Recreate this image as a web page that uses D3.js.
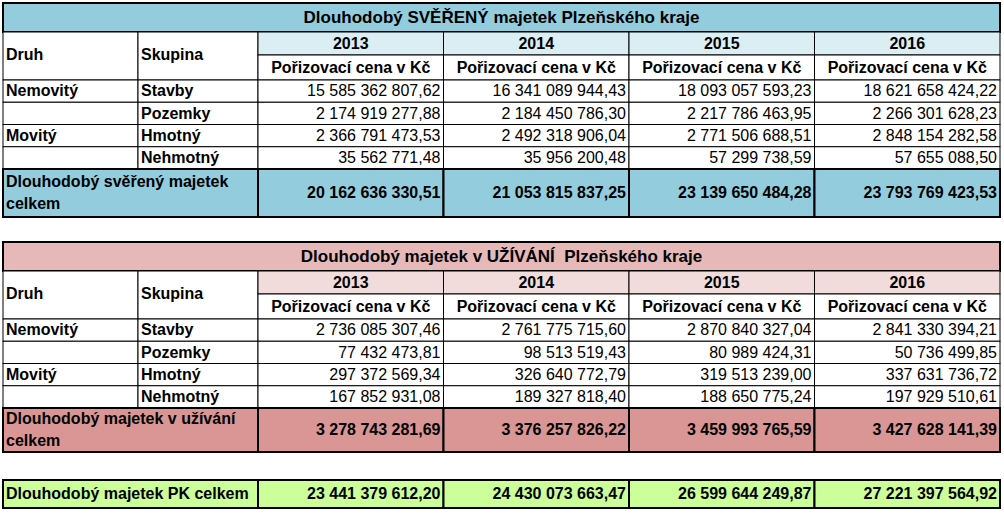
<!DOCTYPE html>
<html>
<head>
<meta charset="utf-8">
<script src="https://cdn.jsdelivr.net/npm/d3@7"></script>
<style>
  body { margin: 0; background: #fff; }
  text { font-family: "Liberation Sans", Arial, sans-serif; white-space: pre; }
</style>
</head>
<body>
<svg id="chart" width="1004" height="517"></svg>
<script>
// data
const years = ['2013', '2014', '2015', '2016'];
const druh = ['Nemovitý', '', 'Movitý', ''];
const skupina = ['Stavby', 'Pozemky', 'Hmotný', 'Nehmotný'];

const sverenyValues = [
  ['15 585 362 807,62', '16 341 089 944,43', '18 093 057 593,23', '18 621 658 424,22'],
  ['2 174 919 277,88', '2 184 450 786,30', '2 217 786 463,95', '2 266 301 628,23'],
  ['2 366 791 473,53', '2 492 318 906,04', '2 771 506 688,51', '2 848 154 282,58'],
  ['35 562 771,48', '35 956 200,48', '57 299 738,59', '57 655 088,50']
];
const sverenyTotal = ['20 162 636 330,51', '21 053 815 837,25', '23 139 650 484,28', '23 793 769 423,53'];

const uzivaniValues = [
  ['2 736 085 307,46', '2 761 775 715,60', '2 870 840 327,04', '2 841 330 394,21'],
  ['77 432 473,81', '98 513 519,43', '80 989 424,31', '50 736 499,85'],
  ['297 372 569,34', '326 640 772,79', '319 513 239,00', '337 631 736,72'],
  ['167 852 931,08', '189 327 818,40', '188 650 775,24', '197 929 510,61']
];
const uzivaniTotal = ['3 278 743 281,69', '3 376 257 826,22', '3 459 993 765,59', '3 427 628 141,39'];

const pkTotal = ['23 441 379 612,20', '24 430 073 663,47', '26 599 644 249,87', '27 221 397 564,92'];

const svg = d3.select('#chart');
const x0 = 3, x1 = 138, x2 = 258, xEnd = 1000;
const xYear = d3.scaleBand().domain(years).range([x2, xEnd]);

function cell(g, x, y, w, h, fill, sw) {
  g.append('rect').attr('x', x).attr('y', y).attr('width', w).attr('height', h)
    .attr('fill', fill).attr('stroke', '#000').attr('stroke-width', sw || 1);
}
function label(g, x, y, t, anchor, bold, size) {
  g.append('text').attr('x', x).attr('y', y).attr('text-anchor', anchor || 'start')
    .attr('dominant-baseline', 'middle')
    .attr('font-weight', bold ? 'bold' : 'normal')
    .attr('font-size', size || 16).attr('fill', '#000').text(t);
}

function drawTable(top, title, colors, values, totalLabel, totals) {
  const g = svg.append('g');
  const titleH = 29, yearH = 23, subH = 25, totalH = top === 3 ? 48 : 44;
  const rowTop = top + titleH + yearH + subH;
  const yRow = d3.scaleBand().domain(d3.range(values.length))
    .range([rowTop, rowTop + 89]);

  cell(g, x0, top, xEnd - x0, titleH, colors.title, 2);
  label(g, (x0 + xEnd) / 2, top + titleH / 2 + 1, title, 'middle', true, 17);

  // header
  const hy = top + titleH;
  cell(g, x0, hy, x1 - x0, yearH + subH, '#fff');
  cell(g, x1, hy, x2 - x1, yearH + subH, '#fff');
  label(g, x0 + 3, hy + (yearH + subH) / 2, 'Druh', 'start', true);
  label(g, x1 + 3, hy + (yearH + subH) / 2, 'Skupina', 'start', true);
  years.forEach(yr => {
    cell(g, xYear(yr), hy, xYear.bandwidth(), yearH, colors.year);
    label(g, xYear(yr) + xYear.bandwidth() / 2, hy + yearH / 2 + 1, yr, 'middle', true);
    cell(g, xYear(yr), hy + yearH, xYear.bandwidth(), subH, '#fff');
    label(g, xYear(yr) + xYear.bandwidth() / 2, hy + yearH + subH / 2 + 1, 'Pořizovací cena v Kč', 'middle', true);
  });

  values.forEach((row, i) => {
    const y = yRow(i), h = yRow.bandwidth();
    cell(g, x0, y, x1 - x0, h, '#fff');
    cell(g, x1, y, x2 - x1, h, '#fff');
    label(g, x0 + 3, y + h / 2 + 1, druh[i], 'start', true);
    label(g, x1 + 3, y + h / 2 + 1, skupina[i], 'start', true);
    row.forEach((v, j) => {
      cell(g, xYear(years[j]), y, xYear.bandwidth(), h, '#fff');
      label(g, xYear(years[j]) + xYear.bandwidth() - 3, y + h / 2 + 1, v, 'end', false);
    });
  });

  const ty = rowTop + 89;
  cell(g, x0, ty, x2 - x0, totalH, colors.total, 2);
  label(g, x0 + 3, ty + totalH / 2 - 10, totalLabel[0], 'start', true);
  label(g, x0 + 3, ty + totalH / 2 + 12, totalLabel[1], 'start', true);
  totals.forEach((v, j) => {
    cell(g, xYear(years[j]), ty, xYear.bandwidth(), totalH, colors.total, 2);
    label(g, xYear(years[j]) + xYear.bandwidth() - 3, ty + totalH / 2 + 1, v, 'end', true);
  });
}

drawTable(3, 'Dlouhodobý SVĚŘENÝ majetek Plzeňského kraje',
  { title: '#93cddd', year: '#dbeef4', total: '#93cddd' },
  sverenyValues, ['Dlouhodobý svěřený majetek', 'celkem'], sverenyTotal);

drawTable(242, 'Dlouhodobý majetek v UŽÍVÁNÍ  Plzeňského kraje',
  { title: '#e6b9b8', year: '#f2dcdb', total: '#d99694' },
  uzivaniValues, ['Dlouhodobý majetek v užívání', 'celkem'], uzivaniTotal);

// PK total row
const g3 = svg.append('g');
const py = 480, ph = 28;
cell(g3, x0, py, x2 - x0, ph, '#ccff99', 2);
label(g3, x0 + 3, py + ph / 2 + 1, 'Dlouhodobý majetek PK celkem', 'start', true);
pkTotal.forEach((v, j) => {
  cell(g3, xYear(years[j]), py, xYear.bandwidth(), ph, '#ccff99', 2);
  label(g3, xYear(years[j]) + xYear.bandwidth() - 3, py + ph / 2 + 1, v, 'end', true);
});
</script>
</body>
</html>
